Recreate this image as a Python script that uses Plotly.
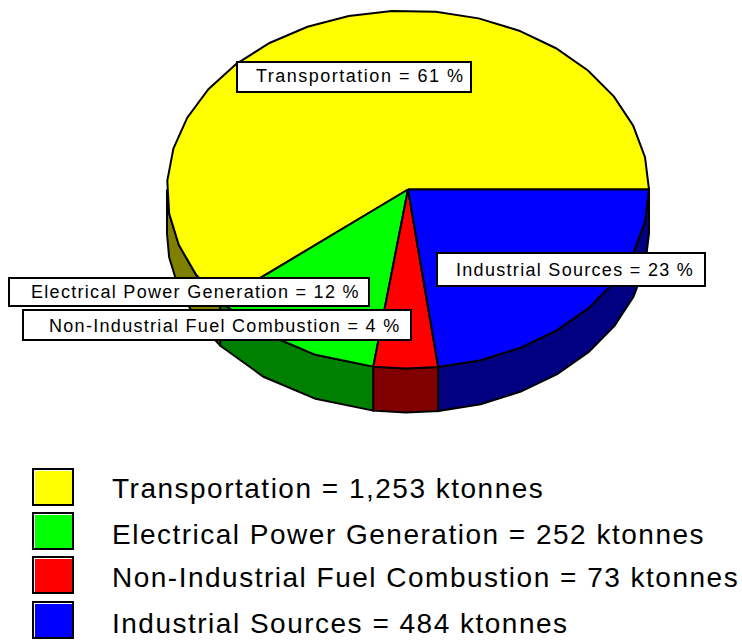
import math
import plotly.graph_objects as go

categories = ["Transportation", "Electrical Power Generation", "Non-Industrial Fuel Combustion", "Industrial Sources"]
ktonnes = ["1,253", "252", "73", "484"]
percent_labels = [61, 12, 4, 23]
drawn_share = [60.8, 11.9, 4.3, 23.0]
facets = [21, 3, 2, 8]
top_colors = ["#ffff00", "#00ff00", "#ff0000", "#0000ff"]
side_colors = ["#808000", "#008000", "#800000", "#000080"]

CX, CY, RX, RY, DEPTH = 408, 189.5, 241, 179, 44
FONT = "Liberation Sans"
INK = "#000000"


def pt(a):
    r = math.radians(a)
    return CX + RX * math.cos(r), CY - RY * math.sin(r)


def arc(a0, a1, n):
    return [a0 + (a1 - a0) * i / n for i in range(n + 1)]


fig = go.Figure()
start = 0.0
spans = []
for share, n in zip(drawn_share, facets):
    spans.append((start, start + share * 3.6, n))
    start += share * 3.6

# rim (only the front half of the pie shows a side wall)
for (a0, a1, n), name, col in zip(spans, categories, side_colors):
    angs = [a for a in arc(a0, a1, n) if a >= 180]
    if a0 < 180 < a1:
        angs = [180.0] + angs
    if len(angs) < 2:
        continue
    pts = [pt(a) for a in angs]
    xs = [p[0] for p in pts] + [p[0] for p in reversed(pts)] + [pts[0][0]]
    ys = [p[1] for p in pts] + [p[1] + DEPTH for p in reversed(pts)] + [pts[0][1]]
    fig.add_trace(go.Scatter(x=xs, y=ys, mode="lines", fill="toself", fillcolor=col,
                             line=dict(color="black", width=2), hoverinfo="skip", showlegend=False))

# top face
for (a0, a1, n), name, col in zip(spans, categories, top_colors):
    pts = [pt(a) for a in arc(a0, a1, n)]
    xs = [CX] + [p[0] for p in pts] + [CX]
    ys = [CY] + [p[1] for p in pts] + [CY]
    fig.add_trace(go.Scatter(x=xs, y=ys, mode="lines", fill="toself", fillcolor=col, name=name,
                             line=dict(color="black", width=2), hoverinfo="skip", showlegend=False))

shapes = []
annotations = []


def spaced(text, ls):
    return f'<span style="letter-spacing:{ls}px">{text}</span>'


# value labels on the pie: (left, top, right, bottom), text right edge
label_boxes = [(237, 62, 471, 92, 466), (9, 278, 369, 306, 362), (23, 310, 411, 340, 402), (437, 253, 705, 286, 696)]
label_centres = [76, 292, 326, 270]
label_spacing = [1.5, 1.3, 1.3, 1.3]
for (x0, y0, x1, y1, tx), yc, ls, name, p in zip(label_boxes, label_centres, label_spacing, categories, percent_labels):
    shapes.append(dict(type="rect", xref="x", yref="y", x0=x0, x1=x1, y0=y0, y1=y1, layer="above",
                       fillcolor="white", line=dict(color="black", width=2)))
    annotations.append(dict(x=tx, y=yc, xref="x", yref="y", xanchor="right", yanchor="middle", showarrow=False,
                            text=spaced(f"{name} = {p} %", ls), font=dict(family=FONT, size=18, color=INK)))

# legend
swatch_tops = [469, 513, 557, 602]
text_centres = [488, 534, 577, 623]
for top, yc, name, val, col in zip(swatch_tops, text_centres, categories, ktonnes, top_colors):
    shapes.append(dict(type="rect", xref="x", yref="y", x0=33, x1=73, y0=top, y1=top + 36, layer="above",
                       fillcolor="white", line=dict(color="black", width=2)))
    shapes.append(dict(type="rect", xref="x", yref="y", x0=35, x1=72, y0=top + 2, y1=top + 35, layer="above",
                       fillcolor=col, line=dict(width=0)))
    annotations.append(dict(x=110, y=yc, xref="x", yref="y", xanchor="left", yanchor="middle", showarrow=False,
                            text=spaced(f"{name} = {val} ktonnes", 1.5), font=dict(family=FONT, size=28, color=INK)))

fig.update_layout(
    width=742, height=640, margin=dict(l=0, r=0, t=0, b=0), autosize=False,
    paper_bgcolor="white", plot_bgcolor="white", showlegend=False,
    xaxis=dict(range=[0, 742], visible=False, fixedrange=True),
    yaxis=dict(range=[640, 0], visible=False, fixedrange=True),
    shapes=shapes, annotations=annotations,
)
fig.write_html("out.html", config={"displayModeBar": False},
               post_script="document.body.style.margin='0';document.documentElement.style.overflow='hidden';")
